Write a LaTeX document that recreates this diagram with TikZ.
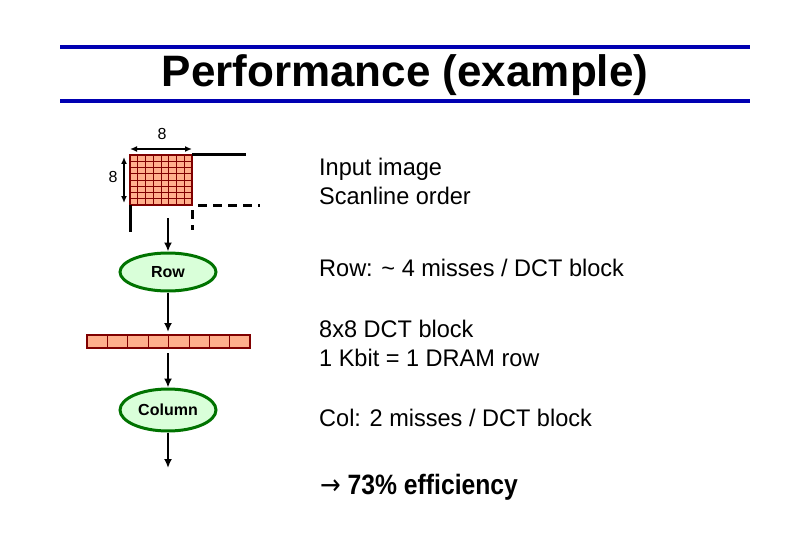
\documentclass[tikz,border=0pt]{standalone}
\usepackage{fontspec}
\setmainfont{Liberation Sans}
\newfontfamily\dvs{DejaVu Sans}
\usetikzlibrary{shapes.geometric,arrows.meta}
\begin{document}
\begin{tikzpicture}[x=1pt,y=-1pt,
  arr/.style={-{Latex[length=9pt,width=8pt]},line width=2.5pt},
  dim/.style={{Latex[length=7pt,width=6pt]}-{Latex[length=7pt,width=6pt]},line width=1.6pt},
  cell/.style={draw=red!50!black,fill=orange!60!red!45,line width=1pt},
  oval/.style={ellipse,draw=green!45!black,fill=green!15,line width=3pt,inner sep=0pt},
  rtext/.style={anchor=west,font=\fontsize{24}{26}\selectfont,xscale=0.98,align=left,inner sep=0pt}]
\useasboundingbox (0,0) rectangle (810,540);
\draw[line width=4pt,blue!70!black] (60,47) -- (750,47) (60,101) -- (750,101);
\node[font=\bfseries\fontsize{44}{46}\selectfont] (title) at (405,75) {Performance (example)};
% grid
\fill[orange!60!red!45] (130,155) rectangle (192,205);
\foreach \i in {1,...,7}{\draw[red!50!black,line width=0.8pt] (130+7.75*\i,155) -- (130+7.75*\i,205);}
\foreach \i in {1,...,7}{\draw[red!50!black,line width=0.8pt] (130,155+6.25*\i) -- (192,155+6.25*\i);}
\draw[red!50!black,line width=2.5pt] (130,155) rectangle (192,205);
\coordinate (gtl) at (130,155); \coordinate (gtr) at (192,155);
\coordinate (gbl) at (130,205); \coordinate (gbr) at (192,205);
\draw[line width=3pt] (gtr) -- (246,155);
\draw[line width=3pt] (gbl) -- (130,232);
\draw[line width=3pt,dash pattern=on 9pt off 6pt] (198,205) -- (260,205);
\draw[line width=3pt,dash pattern=on 9pt off 6pt] (192,210) -- (192,230);
\draw[dim] (130,149) -- (192,149);
\node[font=\fontsize{16}{18}\selectfont] (l8a) at (162,134) {8};
\draw[dim] (124,157) -- (124,203);
\node[font=\fontsize{16}{18}\selectfont] (l8b) at (113,177) {8};
\coordinate (a1) at (168,218);
\node[oval,minimum width=96,minimum height=38,font=\bfseries\fontsize{16}{18}\selectfont] (row) at (168,272) {Row};
\draw[arr] (a1) -- (row);
\foreach \i in {0,...,7}{\draw[cell] (87+20.4*\i,335) rectangle (87+20.4*\i+20.4,348);}
\draw[red!50!black,line width=2.5pt] (87,335) rectangle (250,348);
\coordinate (bt) at (168,332); \coordinate (bb) at (168,353);
\draw[arr] (row) -- (bt);
\node[oval,minimum width=96,minimum height=42,font=\bfseries\fontsize{16}{18}\selectfont] (col) at (168,410) {Column};
\draw[arr] (bb) -- (col);
\coordinate (end) at (168,468);
\draw[arr] (col) -- (end);
\node[rtext] (t1) at (319,181) {Input image\\[3pt]Scanline order};
\node[rtext] (t2) at (319,268) {Row: \textasciitilde{} 4 misses / DCT block};
\node[rtext] (t3) at (319,343) {8x8 DCT block\\[3pt]1 Kbit = 1 DRAM row};
\node[rtext] (t4) at (319,418) {Col: 2 misses / DCT block};
\node[rtext,font=\bfseries\fontsize{28}{30}\selectfont,xscale=0.9] (t5) at (320,487) {{\dvs\mdseries →} 73\% efficiency};
\end{tikzpicture}
\end{document}
